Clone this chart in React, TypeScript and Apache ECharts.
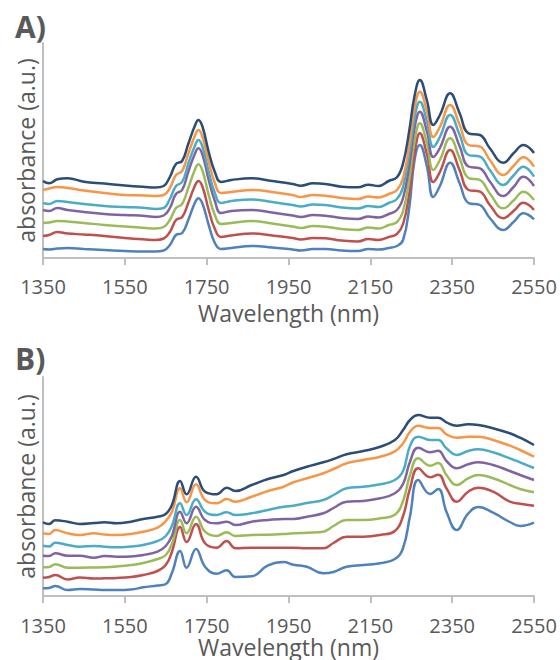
import React, { useEffect, useRef } from "react";
import * as echarts from "echarts";

// ---- Panel A (x: wavelength in nm, y: absorbance, arbitrary units) ----
const wavelengthA = [1350, 1365, 1385, 1410, 1450, 1500, 1550, 1600, 1625, 1645, 1660, 1675, 1690, 1705, 1720, 1730, 1740, 1755, 1770, 1785, 1810, 1860, 1910, 1960, 1980, 2010, 2040, 2080, 2120, 2145, 2170, 2195, 2215, 2230, 2245, 2258, 2271, 2288, 2304, 2320, 2345, 2368, 2390, 2418, 2442, 2475, 2500, 2524, 2550];

const blueA = [9, 8.5, 9.5, 10, 9, 8, 7, 6.5, 6.5, 7.5, 13, 23, 25, 38, 54, 59.7, 54, 33, 15, 9, 10, 12, 10.5, 8.5, 7.5, 9, 9, 7.5, 7, 9, 8.5, 10, 12, 18, 50, 98, 113, 92, 61, 72, 95.3, 75, 55, 53, 40, 28, 36, 44.7, 38.7];
const redA = [22, 23, 26, 24.5, 23.5, 22, 20, 18.5, 18, 19.5, 26, 38, 41, 55, 71, 77, 71, 48, 29, 21, 22.5, 24.5, 22.5, 20, 18.5, 20, 19.7, 17.5, 16.5, 19, 18, 21, 24, 34, 64, 104, 124.7, 104, 76, 86, 108, 88, 68, 66.3, 53, 39.7, 47, 55.3, 48];
const greenA = [35, 35.5, 37, 36.5, 35, 33, 31.5, 30, 29.5, 31, 38, 50, 54, 70, 87, 93.7, 87, 63, 43, 34, 35, 37, 34.5, 31.5, 30, 32, 31.3, 29, 28, 30.5, 29.5, 33, 36, 47, 78, 117, 134.7, 115, 88, 98, 119.7, 100, 80, 78, 64.5, 49.7, 57.5, 66.3, 58];
const purpleA = [48, 47, 50, 48, 46, 44, 43, 42, 41, 42.5, 50, 64, 68, 86, 103, 109.7, 103, 78, 57, 45, 47, 48, 45.5, 42.5, 41, 43, 42.3, 40, 39, 41.5, 40.5, 44, 48, 60, 92, 130, 146.3, 127, 101, 110, 131.3, 112, 91.5, 89.7, 76.5, 62, 71, 81.3, 72];
const cyanA = [55, 54, 57, 56, 54, 52, 51, 50, 49, 50, 59, 72, 76, 94, 111, 118, 111, 86, 65, 55, 57, 58.5, 56, 53, 51.5, 53.5, 53, 50.5, 49.5, 52, 51, 55, 59, 71, 104, 140, 156.3, 137, 111, 121, 143, 123.5, 103, 101.3, 88, 73, 82.5, 91.3, 81.3];
const orangeA = [68, 69.5, 71, 70, 67.5, 65, 63, 62.5, 62, 63, 70, 83, 87, 104, 121, 128, 121, 96, 75, 65, 66, 68, 66, 63, 61, 63, 62.3, 60, 59, 61.5, 60.5, 64, 68, 80, 113, 150, 166.3, 147, 121, 131, 153, 133.5, 113, 111.3, 98, 83, 92, 100.7, 91.3];
const navyA = [77, 74.7, 78.7, 79.7, 76.3, 74.5, 72.5, 71, 70.5, 72, 81, 94, 97, 114, 131, 138, 131, 106, 86, 76, 78, 79.7, 77, 74, 72.3, 74.7, 74, 71.3, 70.7, 73.3, 72, 77, 80.7, 94.7, 127, 162, 178, 158, 133, 143, 164.7, 145, 124.7, 123, 109.7, 95.3, 104.7, 113, 105];

// ---- Panel B ----
const wavelengthB = [1350, 1365, 1380, 1410, 1440, 1475, 1500, 1530, 1565, 1595, 1630, 1650, 1665, 1685, 1701, 1724, 1746, 1774, 1799, 1820, 1860, 1900, 1938, 1962, 1995, 2035, 2060, 2092, 2133, 2174, 2210, 2230, 2247, 2267, 2296, 2316, 2336, 2361, 2389, 2414, 2450, 2491, 2516, 2550];

const blueB = [7.7, 8, 10, 6, 7, 6.5, 6, 6, 6.5, 8.7, 10.5, 12, 23, 45, 28.3, 47, 29.3, 22.3, 25.7, 19, 19.7, 30.7, 34, 31.3, 29.3, 22.7, 24, 29.3, 31, 32.7, 37, 48, 80, 116, 102, 107, 84.3, 66, 82.3, 89, 83.3, 74, 70, 73.3];
const redB = [18.3, 19, 21, 16.5, 18.5, 17.5, 17.7, 18, 19, 21, 25, 31, 44, 69, 54, 72, 52.7, 48.3, 55, 47.7, 48.3, 48.3, 48.3, 48.3, 47.7, 47.7, 53, 59.3, 59.3, 61, 65, 80, 107.7, 127.7, 118.7, 121.3, 107.7, 94.3, 104.3, 108.3, 104.3, 94.3, 92.3, 90.3];
const greenB = [28.7, 29, 31.7, 28.3, 28.3, 28.5, 28.7, 29.5, 31, 33, 37, 41, 52, 76, 62.7, 79.3, 64.3, 60, 63.7, 60, 61, 61.3, 62, 62.7, 63.3, 64.3, 70, 76, 76, 77.7, 81.3, 95, 121, 137.7, 130.3, 133, 121, 111, 117.7, 121, 117.7, 111, 107, 103.7];
const purpleB = [40.3, 40, 42.7, 40.3, 40.3, 38.3, 40, 39.3, 39.5, 41, 44.3, 50, 60, 84.3, 72.7, 89.3, 76, 72.7, 74.3, 71, 74.3, 76, 77, 77, 79.3, 82.7, 88, 94.3, 95, 97.7, 102.7, 112, 134.3, 148.3, 143.7, 145.3, 135, 127.7, 131.7, 133.7, 131, 125, 121, 116];
const cyanB = [50.3, 49.5, 53.3, 51, 49.3, 50, 49.3, 48.7, 49.5, 51, 55, 60, 70, 92.7, 81, 96.7, 84.3, 81, 83.7, 81, 82.7, 86, 89.3, 90.3, 93, 96, 101, 107.7, 109.3, 111.7, 116, 125, 150, 159.3, 156, 156, 147.7, 141, 145, 146.7, 143.7, 137.7, 133.7, 128];
const orangeB = [62.7, 62, 66, 62.7, 61, 62.7, 61.5, 61, 62, 64.3, 68.3, 75, 84, 107.7, 93.7, 111.7, 96, 92.7, 97, 94.3, 99.3, 105, 109.3, 113.7, 117.7, 122.7, 127, 132.7, 136, 139.3, 144.7, 152.7, 164.3, 170.3, 168, 168, 161.7, 158.3, 159.3, 159.3, 156, 150.3, 146, 139.3];
const navyB = [73.7, 72, 75.7, 74.3, 72, 73, 73.7, 72.7, 74.3, 77, 79.3, 82, 91, 115, 101.7, 119.3, 104.3, 101.7, 108.3, 105, 111, 117, 121, 125, 129.3, 133.7, 137, 141.7, 145, 149.3, 156, 166, 176, 181, 178.3, 178.3, 173.7, 170.3, 171.7, 171, 167.7, 162.7, 158.3, 151];

const seriesColors = ["#4F81BD", "#C0504D", "#9BBB59", "#8064A2", "#4BACC6", "#F79646", "#2C4D75"];
const seriesNames = ["1", "2", "3", "4", "5", "6", "7"];
const panelA = [blueA, redA, greenA, purpleA, cyanA, orangeA, navyA];
const panelB = [blueB, redB, greenB, purpleB, cyanB, orangeB, navyB];

const FONT = '"Open Sans", "DejaVu Sans", sans-serif';
const TEXT = "#595959";
const AXIS = "#BFBFBF";

function makeX(gridIndex: number, labelMargin: number, nameGap: number) {
  return {
    type: "value",
    gridIndex,
    min: 1350,
    max: 2550,
    interval: 200,
    axisLine: { show: true, lineStyle: { color: AXIS, width: 2 } },
    axisTick: { show: true, length: 7, lineStyle: { color: AXIS, width: 2 } },
    axisLabel: {
      color: TEXT,
      fontSize: 20,
      lineHeight: 20,
      fontFamily: FONT,
      margin: labelMargin,
      formatter: (v: number) => String(v),
    },
    splitLine: { show: false },
    name: "Wavelength (nm)",
    nameLocation: "middle",
    nameGap,
    nameTextStyle: { color: TEXT, fontSize: 23, lineHeight: 22, fontFamily: FONT },
  };
}

function makeY(gridIndex: number, max: number) {
  return {
    type: "value",
    gridIndex,
    min: 0,
    max,
    axisLine: { show: true, lineStyle: { color: AXIS, width: 2 } },
    axisTick: { show: false },
    axisLabel: { show: false },
    splitLine: { show: false },
    name: "absorbance (a.u.)",
    nameLocation: "middle",
    nameRotate: 90,
    nameGap: 6,
    nameTextStyle: { color: TEXT, fontSize: 23, fontFamily: FONT },
  };
}

export default function App() {
  const ref = useRef<HTMLDivElement>(null);
  useEffect(() => {
    if (!ref.current) return;
    const chart = echarts.init(ref.current, undefined, { renderer: "svg" });
    const series: any[] = [];
    panelA.forEach((vals, i) => {
      series.push({
        name: seriesNames[i],
        type: "line",
        xAxisIndex: 0,
        yAxisIndex: 0,
        data: wavelengthA.map((x, j) => [x, vals[j]]),
        smooth: 0.45,
        showSymbol: false,
        lineStyle: { color: seriesColors[i], width: 2.5 },
        itemStyle: { color: seriesColors[i] },
      });
    });
    panelB.forEach((vals, i) => {
      series.push({
        name: seriesNames[i],
        type: "line",
        xAxisIndex: 1,
        yAxisIndex: 1,
        data: wavelengthB.map((x, j) => [x, vals[j]]),
        smooth: 0.45,
        showSymbol: false,
        lineStyle: { color: seriesColors[i], width: 2.5 },
        itemStyle: { color: seriesColors[i] },
      });
    });
    chart.setOption({
      animation: false,
      backgroundColor: "#FFFFFF",
      title: [
        { text: "A)", left: 10, top: 6, textStyle: { color: TEXT, fontSize: 30, fontWeight: "bold", fontFamily: FONT } },
        { text: "B)", left: 10, top: 338, textStyle: { color: TEXT, fontSize: 30, fontWeight: "bold", fontFamily: FONT } },
      ],
      grid: [
        { left: 43, top: 43, width: 491, height: 215 },
        { left: 43, top: 377, width: 491, height: 219 },
      ],
      xAxis: [makeX(0, 18, 44), makeX(1, 19, 40)],
      yAxis: [makeY(0, 215), makeY(1, 219)],
      series,
    });
    return () => chart.dispose();
  }, []);
  return <div ref={ref} style={{ position: "absolute", left: 0, top: 0, width: 560, height: 660 }} />;
}
